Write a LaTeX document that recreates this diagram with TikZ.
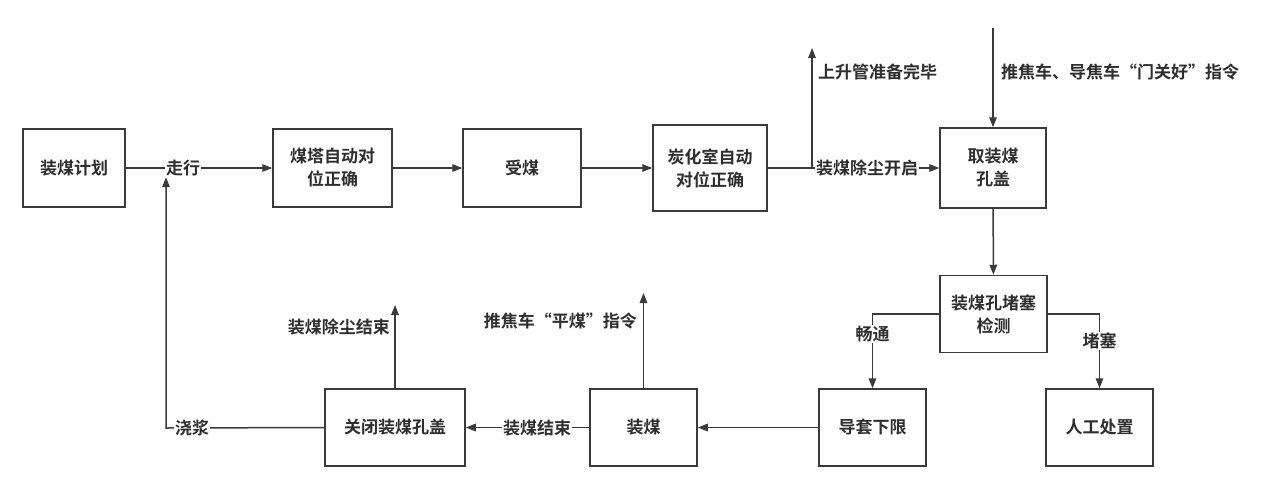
\documentclass[tikz,border=0pt]{standalone}
\usepackage{fontspec}
\newfontfamily\cjk{Noto Sans CJK SC Bold}
\usetikzlibrary{arrows.meta,calc}
\definecolor{lc}{HTML}{3A3A3A}
\definecolor{tc}{HTML}{2E2E2E}
\begin{document}
\begin{tikzpicture}[x=1pt,y=-1pt,
  font=\cjk\fontsize{17}{23}\selectfont,
  every node/.style={text=tc},
  box/.style={draw=lc, line width=1.5pt, fill=white, align=center, inner sep=0pt},
  lab/.style={fill=white, inner sep=1pt},
  conn/.style={draw=lc, line width=1.5pt, -{Triangle[length=10pt,width=7.5pt]}},
  plain/.style={draw=lc, line width=1.5pt}]
\useasboundingbox[fill=white] (0,0) rectangle (1265,493);

% boxes
\node[box, minimum width=102pt, minimum height=78pt] (b1) at (74,168) {装煤计划};
\node[box, minimum width=119pt, minimum height=78pt] (b2) at (332.5,168) {煤塔自动对\\位正确};
\node[box, minimum width=118pt, minimum height=78pt] (b3) at (522,168) {受煤};
\node[box, minimum width=114pt, minimum height=86pt] (b4) at (710,168) {炭化室自动\\对位正确};
\node[box, minimum width=106pt, minimum height=80pt] (b5) at (993,168) {取装煤\\孔盖};
\node[box, minimum width=107pt, minimum height=77pt] (b6) at (993.5,314) {装煤孔堵塞\\检测};
\node[box, minimum width=107pt, minimum height=77pt] (b7) at (872.5,427.5) {导套下限};
\node[box, minimum width=107pt, minimum height=77pt] (b8) at (1099.5,427.5) {人工处置};
\node[box, minimum width=107pt, minimum height=77pt] (b9) at (643.5,427.5) {装煤};
\node[box, minimum width=140pt, minimum height=77pt] (b10) at (395,427.5) {关闭装煤孔盖};

% coordinates
\coordinate (cloop) at (166,428);
\coordinate (br) at (812,168);
\coordinate (brtop) at (812,48);
\coordinate (top) at (993,28);
\coordinate (pm) at (643.5,293);
\coordinate (cz) at (395,305);

% connectors
\draw[conn] (b1) -- (b2);
\draw[conn] (b2) -- (b3);
\draw[conn] (b3) -- (b4);
\draw[conn] (b4) -- (b5);
\draw[conn] (br) -- (brtop);
\draw[conn] (top) -- (b5.north);
\draw[conn] (b5) -- (b6);
\draw[conn] (b6.west) -| (b7.north);
\draw[conn] (b6.east) -| (b8.north);
\draw[conn] (b7) -- (b9);
\draw[conn] (b9.north) -- (pm);
\draw[conn] (b9) -- (b10);
\draw[conn] (b10.north) -- (cz);

% labels on lines
\node[lab] (lw) at (183,168) {走行};
\draw[conn] (b10.west) -- (cloop) -- (cloop |- lw.south);
\node[lab] (lj) at (192,428) {浇浆};
\node[lab] (ld) at (867,168) {装煤除尘开启};
\node[lab] (lc1) at (872.5,334) {畅通};
\node[lab] (lc2) at (1099.5,341) {堵塞};
\node[lab] (le) at (537,428) {装煤结束};

% side labels
\node[anchor=west, inner sep=0pt] (lup) at (818,72) {上升管准备完毕};
\node[anchor=west, inner sep=0pt] (ltop) at (1001,72) {推焦车、导焦车“门关好”指令};
\node[anchor=east, inner sep=0pt] (lpm) at (637,321) {推焦车“平煤”指令};
\node[anchor=east, inner sep=0pt] (lcz) at (390,327) {装煤除尘结束};
\end{tikzpicture}
\end{document}
